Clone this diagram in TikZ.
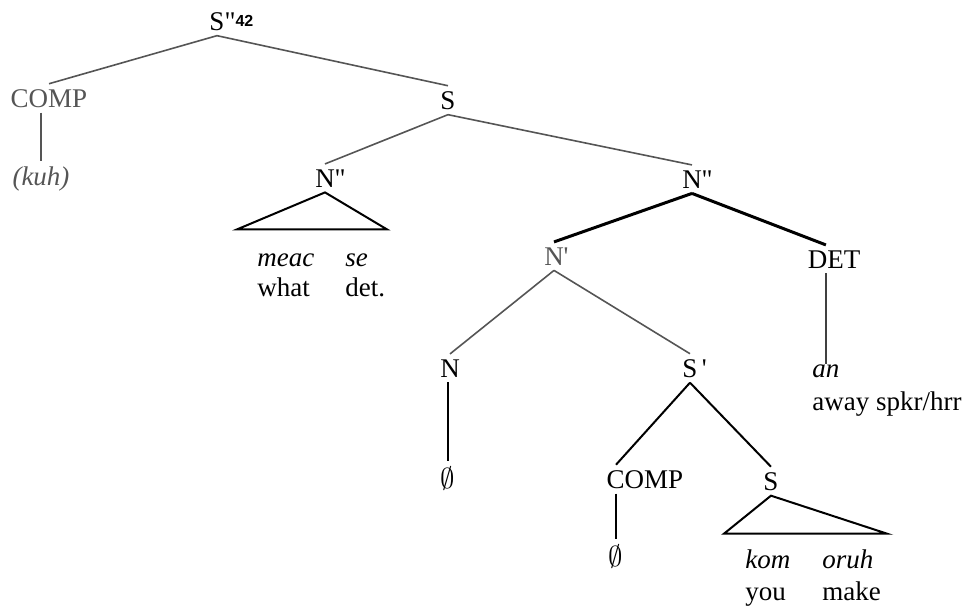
\documentclass[tikz,border=0pt]{standalone}
\usepackage{fontspec}
\setmainfont{Liberation Serif}
\setsansfont{Liberation Sans}
\usepackage{tikz}
\usetikzlibrary{calc}
\definecolor{scan}{HTML}{555555}
\tikzset{
  lbl/.style={inner sep=2.5pt,anchor=base,font=\fontsize{13.5}{16}\selectfont},
  glbl/.style={lbl,text=scan},
  wrd/.style={inner sep=0pt,anchor=base west,font=\fontsize{13.5}{16}\selectfont},
  gl/.style={draw=scan,line width=0.8pt},
  bl/.style={draw=black,line width=1pt},
  tl/.style={draw=black,line width=1.5pt},
  dl/.style={draw=black!75,line width=0.7pt},
  tri/.style={draw=black,line width=1pt,line join=miter},
}
\begin{document}
\begin{tikzpicture}[x=0.5pt,y=-0.5pt]
  \useasboundingbox (0,0) rectangle (976,607);
  % upper part of the tree
  \node[lbl] (top) at (217,30) {S\rlap{\textquotedbl\raisebox{0.3ex}{\fontsize{8}{8}\selectfont\sffamily\bfseries 42}}};
  \node[glbl] (comp) at (49,107) {COMP};
  \node[glbl,font=\fontsize{13.5}{16}\selectfont\itshape] (kuh) at (41,185) {(kuh)};
  \node[lbl] (s) at (448,109) {S};
  \node[lbl] (nl) at (325,187) {N\rlap{\textquotedbl}};
  \node[lbl] (nr) at (692,188) {N\rlap{\textquotedbl}};
  \node[wrd,font=\fontsize{13.5}{16}\selectfont\itshape] (meac) at (257,266) {meac};
  \node[wrd,font=\fontsize{13.5}{16}\selectfont\itshape] (se) at (345,266) {se};
  \node[wrd] (what) at (257,296) {what};
  \node[wrd] (dt) at (345,296) {det.};
  \draw[gl] (top.south) -- (comp.north);
  \draw[gl] (top.south) -- (s.north);
  \draw[gl] (kuh.north |- comp.south) -- (kuh.north);
  \draw[gl] (s.south) -- (nl.north);
  \draw[gl] (s.south) -- (nr.north);
  \draw[tri] (nl.south) -- ++(-88,37) -- ++(150,0) -- cycle;
  % object noun phrase
  \node[glbl] (np) at (554,265) {N\rlap{\textquotesingle}};
  \node[lbl] (det) at (834,268) {DET};
  \node[wrd,font=\fontsize{13.5}{16}\selectfont\itshape] (an) at (812,377) {an};
  \node[wrd] (away) at (812,410) {away spkr/hrr};
  \node[lbl] (n) at (450,377) {N};
  \node[lbl] (sp) at (690,377) {S\rlap{\,\textquotesingle}};
  \node[lbl] (nul1) at (448,488) {$\emptyset$};
  \node[lbl] (comp2) at (645,488) {COMP};
  \node[lbl] (s2) at (771,490) {S};
  \node[lbl] (nul2) at (616,566) {$\emptyset$};
  \node[wrd,font=\fontsize{13.5}{16}\selectfont\itshape] (kom) at (745,568) {kom};
  \node[wrd,font=\fontsize{13.5}{16}\selectfont\itshape] (oruh) at (822,568) {oruh};
  \node[wrd] (you) at (745,600) {you};
  \node[wrd] (make) at (822,600) {make};
  \draw[tl] (nr.south) -- (np.north);
  \draw[tl] (nr.south) -- (det.north -| an.north);
  \draw[dl] (an.north |- det.south) -- (an.north);
  \draw[gl] (np.south) -- (n.north);
  \draw[gl] (np.south) -- (sp.north);
  \draw[bl,line width=1.2pt] (nul1.north |- n.south) -- (nul1.north);
  \draw[bl] (sp.south) -- (comp2.north -| nul2.north);
  \draw[bl] (sp.south) -- (s2.north);
  \draw[bl] (nul2.north |- comp2.south) -- (nul2.north);
  \draw[tri] (s2.south) -- ++(-47,38) -- ++(163,0) -- cycle;
\end{tikzpicture}
\end{document}
